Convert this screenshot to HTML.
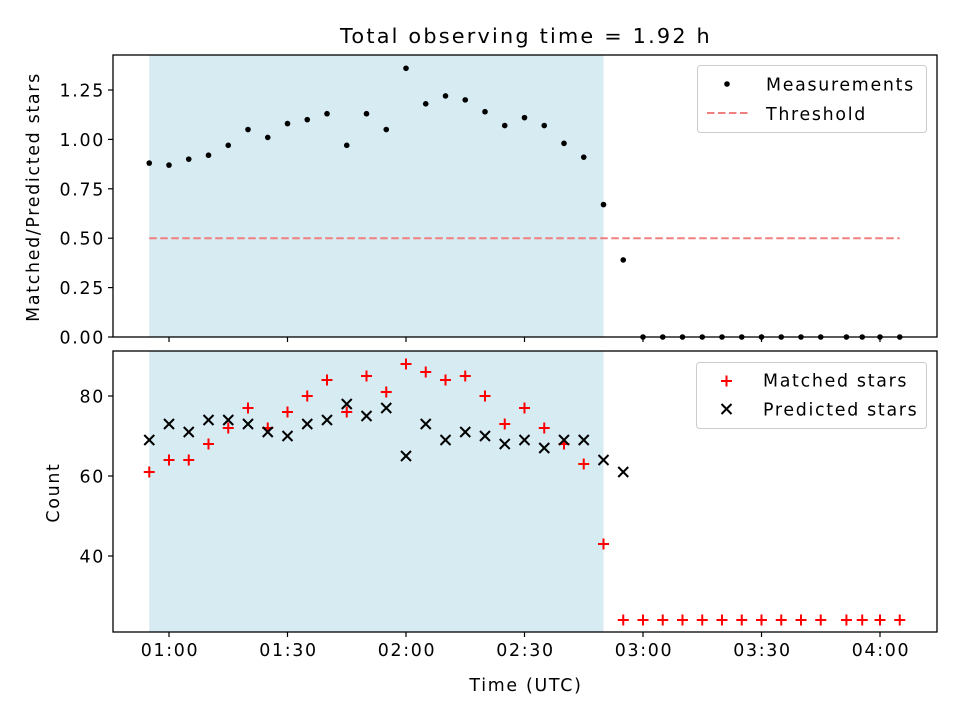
<!DOCTYPE html>
<html><head><meta charset="utf-8"><style>
body{margin:0;background:#fff}
svg text{font-family:"DejaVu Sans","Liberation Sans",sans-serif;fill:#000;letter-spacing:1.7px}
svg text.title{letter-spacing:2.2px}
</style></head><body>
<svg width="960" height="720" viewBox="0 0 960 720" xmlns="http://www.w3.org/2000/svg">
<g id="root"></g>
</svg>
<script>
const times=[55,60,65,70,75,80,85,90,95,100,105,110,115,120,125,130,135,140,145,150,155,160,165,170,175,180,185,190,195,200,205,210,215,220,225,231.5,235.5,240,245];
const ratio=[0.88,0.87,0.90,0.92,0.97,1.05,1.01,1.08,1.10,1.13,0.97,1.13,1.05,1.36,1.18,1.22,1.20,1.14,1.07,1.11,1.07,0.98,0.91,0.67,0.39,0,0,0,0,0,0,0,0,0,0,0,0,0,0];
const matched=[61,64,64,68,72,77,72,76,80,84,76,85,81,88,86,84,85,80,73,77,72,68,63,43,24,24,24,24,24,24,24,24,24,24,24,24,24,24,24];
const predicted=[69,73,71,74,74,73,71,70,73,74,78,75,77,65,73,69,71,70,68,69,67,69,69,64,61];
const xTicks=[60,90,120,150,180,210,240];
const xTickLabels=["01:00","01:30","02:00","02:30","03:00","03:30","04:00"];
const topTicks=[0,0.25,0.5,0.75,1.0,1.25];
const botTicks=[40,60,80];
const threshold=0.5;
const spanStart=55, spanEnd=170;

const NS="http://www.w3.org/2000/svg";
const root=document.getElementById('root');
function el(tag,attrs,parent,text){const e=document.createElementNS(NS,tag);for(const k in attrs)e.setAttribute(k,attrs[k]);if(text!==undefined)e.textContent=text;(parent||root).appendChild(e);return e;}
const X=m=>169+(m-60)*118.5/30;
const YT=v=>337-v*197.6;
const YB=c=>396+(80-c)*4;
const L=113,R=937,T1=55,B1=337,T2=351,B2=632;
const FS=17.4;

let t=el('text',{x:526,y:43,'font-size':20.8,'text-anchor':'middle','class':'title'},root,'Total observing time = 1.92 h');


[[T1,B1],[T2,B2]].forEach((r,i)=>{
 const s=el('rect',{x:X(spanStart),y:r[0],width:X(spanEnd)-X(spanStart),height:r[1]-r[0],fill:'#add8e6','fill-opacity':0.5});
 
 
});

let th=el('line',{x1:X(times[0]),x2:X(times[times.length-1]),y1:YT(threshold),y2:YT(threshold),stroke:'#f08080','stroke-width':2,'stroke-dasharray':'7.5,3.5'});


ratio.forEach((v,i)=>{const c=el('circle',{cx:X(times[i]),cy:YT(v),r:2.8,fill:'#000'});
});

matched.forEach((v,i)=>{const x=X(times[i]),y=YB(v);
const g=el('path',{d:`M${x-5.5},${y}H${x+5.5}M${x},${y-5.5}V${y+5.5}`,stroke:'#f00','stroke-width':2});
});
predicted.forEach((v,i)=>{const x=X(times[i]),y=YB(v);
const g=el('path',{d:`M${x-5},${y-5}L${x+5},${y+5}M${x-5},${y+5}L${x+5},${y-5}`,stroke:'#000','stroke-width':2});
});

let f1=el('rect',{x:L,y:T1,width:R-L,height:B1-T1,fill:'none',stroke:'#000','stroke-width':1.3});

let f2=el('rect',{x:L,y:T2,width:R-L,height:B2-T2,fill:'none',stroke:'#000','stroke-width':1.3});


xTicks.forEach((m,i)=>{const x=X(m);
el('line',{x1:x,x2:x,y1:B1,y2:B1+5,stroke:'#000','stroke-width':1.2});
el('line',{x1:x,x2:x,y1:B2,y2:B2+5,stroke:'#000','stroke-width':1.2});
const tl=el('text',{x:x+1,y:B2+24,'font-size':FS,'text-anchor':'middle'},root,xTickLabels[i]);
});
topTicks.forEach(v=>{const y=YT(v);
el('line',{x1:L-5,x2:L,y1:y,y2:y,stroke:'#000','stroke-width':1.2});
const tl=el('text',{x:L-8,y:y+6.5,'font-size':FS,'text-anchor':'end'},root,v.toFixed(2));
});
botTicks.forEach(v=>{const y=YB(v);
el('line',{x1:L-5,x2:L,y1:y,y2:y,stroke:'#000','stroke-width':1.2});
const tl=el('text',{x:L-8,y:y+6.5,'font-size':FS,'text-anchor':'end'},root,String(v));
});

let xl=el('text',{x:526,y:691,'font-size':FS,'text-anchor':'middle'},root,'Time (UTC)');

let yl1=el('text',{x:0,y:0,'font-size':FS,'text-anchor':'middle',transform:`translate(39,${(T1+B1)/2+1}) rotate(-90)`},root,'Matched/Predicted stars');

let yl2=el('text',{x:0,y:0,'font-size':FS,'text-anchor':'middle',transform:`translate(59,${(T2+B2)/2+1}) rotate(-90)`},root,'Count');


let lg1=el('g',{});
el('rect',{x:697.5,y:65.5,width:229,height:67,rx:3,fill:'#fff','fill-opacity':0.8,stroke:'#ccc'},lg1);
el('circle',{cx:727,cy:84,r:2.8,fill:'#000'},lg1);
el('text',{x:766,y:90.5,'font-size':FS},lg1,'Measurements');
el('line',{x1:707,x2:748,y1:113,y2:113,stroke:'#f08080','stroke-width':2,'stroke-dasharray':'7.5,3.5'},lg1);
el('text',{x:766,y:120,'font-size':FS},lg1,'Threshold');

let lg2=el('g',{});
el('rect',{x:696.5,y:362.5,width:230,height:66,rx:3,fill:'#fff','fill-opacity':0.8,stroke:'#ccc'},lg2);
el('path',{d:'M721,381H732M726.5,375.5V386.5',stroke:'#f00','stroke-width':2},lg2);
el('text',{x:763,y:386.5,'font-size':FS},lg2,'Matched stars');
el('path',{d:'M721.5,404L731.5,414M721.5,414L731.5,404',stroke:'#000','stroke-width':2},lg2);
el('text',{x:763,y:415.5,'font-size':FS},lg2,'Predicted stars');
</script>
</body></html>
